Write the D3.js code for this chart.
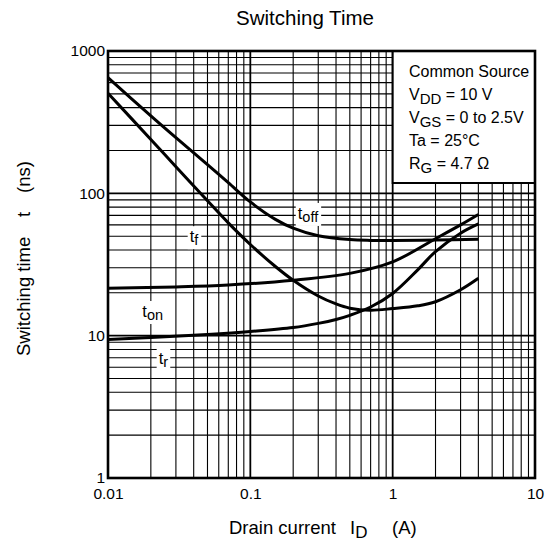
<!DOCTYPE html>
<html>
<head>
<meta charset="utf-8">
<script src="https://cdn.jsdelivr.net/npm/d3@7"></script>
<style>
  html, body { margin: 0; padding: 0; background: #fff; }
  svg { display: block; font-family: "Liberation Sans", Arial, Helvetica, sans-serif; }
</style>
</head>
<body>
<svg id="chart" width="550" height="541"></svg>
<script>
// ---------- data ----------
const xTickLabels = [0.01, 0.1, 1, 10];
const yTickLabels = [1, 10, 100, 1000];

const toffCurrent = [0.01, 0.02, 0.03, 0.05, 0.07, 0.1, 0.15, 0.2, 0.3, 0.5, 0.7, 1, 2, 4];
const toffValues  = [650, 350, 246, 159, 119, 87, 65.6, 56.9, 50.3, 47.3, 46.7, 46.6, 47, 47.5];

const tfCurrent = [0.01, 0.02, 0.03, 0.05, 0.07, 0.1, 0.15, 0.2, 0.3, 0.4, 0.5, 0.7, 1, 1.5, 2, 3, 4];
const tfValues  = [505, 239, 154, 88.7, 62, 43.7, 30.6, 24.5, 19.0, 16.7, 15.6, 15.1, 15.5, 16.2, 17.3, 21, 25.3];

const tonCurrent = [0.01, 0.03, 0.07, 0.2, 0.5, 1, 2, 3, 4];
const tonValues  = [21.5, 22, 22.7, 24.5, 27.4, 33, 48, 60, 71];

const trCurrent = [0.01, 0.02, 0.05, 0.1, 0.2, 0.3, 0.4, 0.5, 0.7, 1, 1.5, 2, 3, 4];
const trValues  = [9.4, 9.7, 10.2, 10.7, 11.4, 12.2, 13.0, 13.9, 15.9, 19.8, 29, 39, 52.5, 61];

const curveLabels = [
  { main: "t", sub: "off", x: 0.254, y: 72.8 },
  { main: "t", sub: "f",   x: 0.0402, y: 50 },
  { main: "t", sub: "on",  x: 0.0206, y: 14.9 },
  { main: "t", sub: "r",   x: 0.0245, y: 7.0 }
];

const legendLines = [
  { main: "Common Source", sub: "", rest: "" },
  { main: "V", sub: "DD", rest: " = 10 V" },
  { main: "V", sub: "GS", rest: " = 0 to 2.5V" },
  { main: "Ta = 25°C", sub: "", rest: "" },
  { main: "R", sub: "G", rest: " = 4.7 Ω" }
];

// ---------- layout ----------
const svg = d3.select("#chart");
const L = 108, R = 535, T = 51, B = 478;
const x = d3.scaleLog().domain([0.01, 10]).range([L, R]);
const y = d3.scaleLog().domain([1, 1000]).range([B, T]);

const isDecade = v => Math.abs(Math.log10(v) - Math.round(Math.log10(v))) < 1e-9;

// grid
const grid = svg.append("g");
grid.selectAll("line.vx").data(x.ticks()).join("line")
  .attr("x1", d => x(d)).attr("x2", d => x(d))
  .attr("y1", T).attr("y2", B)
  .attr("stroke", "#000").attr("stroke-width", d => isDecade(d) ? 1.8 : 1.1);
grid.selectAll("line.hy").data(y.ticks()).join("line")
  .attr("y1", d => y(d)).attr("y2", d => y(d))
  .attr("x1", L).attr("x2", R)
  .attr("stroke", "#000").attr("stroke-width", d => isDecade(d) ? 1.8 : 1.1);

// legend box (covers grid)
const lg = svg.append("g");
lg.append("rect").attr("x", x(1)).attr("y", T).attr("width", R - x(1)).attr("height", 132)
  .attr("fill", "#fff").attr("stroke", "#000").attr("stroke-width", 2);
legendLines.forEach((ln, i) => {
  const t = lg.append("text").attr("x", 409).attr("y", 77 + i * 23)
    .attr("font-size", 16).attr("fill", "#000");
  t.append("tspan").text(ln.main);
  if (ln.sub) t.append("tspan").attr("dy", 4).attr("font-size", 15).text(ln.sub);
  if (ln.rest) t.append("tspan").attr("dy", ln.sub ? -4 : 0).text(ln.rest);
});

// curves
const line = d3.line().x(d => x(d[0])).y(d => y(d[1])).curve(d3.curveCatmullRom.alpha(0.5));
const series = [
  d3.zip(toffCurrent, toffValues),
  d3.zip(tfCurrent, tfValues),
  d3.zip(tonCurrent, tonValues),
  d3.zip(trCurrent, trValues)
];
svg.append("g").selectAll("path").data(series).join("path")
  .attr("d", line).attr("fill", "none").attr("stroke", "#000")
  .attr("stroke-width", 3).attr("stroke-linejoin", "round");

// curve labels with white background
const labG = svg.append("g");
curveLabels.forEach(lb => {
  const g = labG.append("g");
  const t = g.append("text").attr("x", x(lb.x)).attr("y", y(lb.y) + 6)
    .attr("text-anchor", "middle").attr("font-size", 16.5).attr("fill", "#000");
  t.append("tspan").text(lb.main);
  t.append("tspan").attr("dy", 3).attr("font-size", 14.5).text(lb.sub);
  const bb = t.node().getBBox();
  g.insert("rect", "text").attr("x", bb.x - 2).attr("y", bb.y - 1)
    .attr("width", bb.width + 4).attr("height", bb.height + 2).attr("fill", "#fff");
});

// frame
svg.append("rect").attr("x", L).attr("y", T).attr("width", R - L).attr("height", B - T)
  .attr("fill", "none").attr("stroke", "#000").attr("stroke-width", 2.6);

// axes
const fmt = d => String(d);
const ax = svg.append("g").attr("transform", `translate(0,${B})`)
  .call(d3.axisBottom(x).tickValues(xTickLabels).tickFormat(fmt).tickSize(0).tickPadding(10));
const ay = svg.append("g").attr("transform", `translate(${L},0)`)
  .call(d3.axisLeft(y).tickValues(yTickLabels).tickFormat(fmt).tickSize(0).tickPadding(3));
[ax, ay].forEach(a => {
  a.select(".domain").remove();
  a.selectAll("text").attr("font-size", 15.5).attr("fill", "#000")
    .attr("font-family", "Liberation Sans, Arial, sans-serif");
});

// title
svg.append("text").attr("x", 305).attr("y", 25).attr("text-anchor", "middle")
  .attr("font-size", 20.5).attr("fill", "#000").text("Switching Time");

// x axis title
const xt = svg.append("g").attr("font-size", 18.5).attr("fill", "#000");
xt.append("text").attr("x", 229).attr("y", 534).text("Drain current");
const xi = xt.append("text").attr("x", 350).attr("y", 534);
xi.append("tspan").text("I");
xi.append("tspan").attr("dy", 4).attr("font-size", 17).text("D");
xt.append("text").attr("x", 392).attr("y", 534).text("(A)");

// y axis title
const yt = svg.append("g").attr("font-size", 18.5).attr("fill", "#000");
yt.append("text").attr("transform", "translate(30,356) rotate(-90)").text("Switching time");
yt.append("text").attr("transform", "translate(30,217) rotate(-90)").text("t");
yt.append("text").attr("transform", "translate(30,193) rotate(-90)").text("(ns)");
</script>
</body>
</html>
